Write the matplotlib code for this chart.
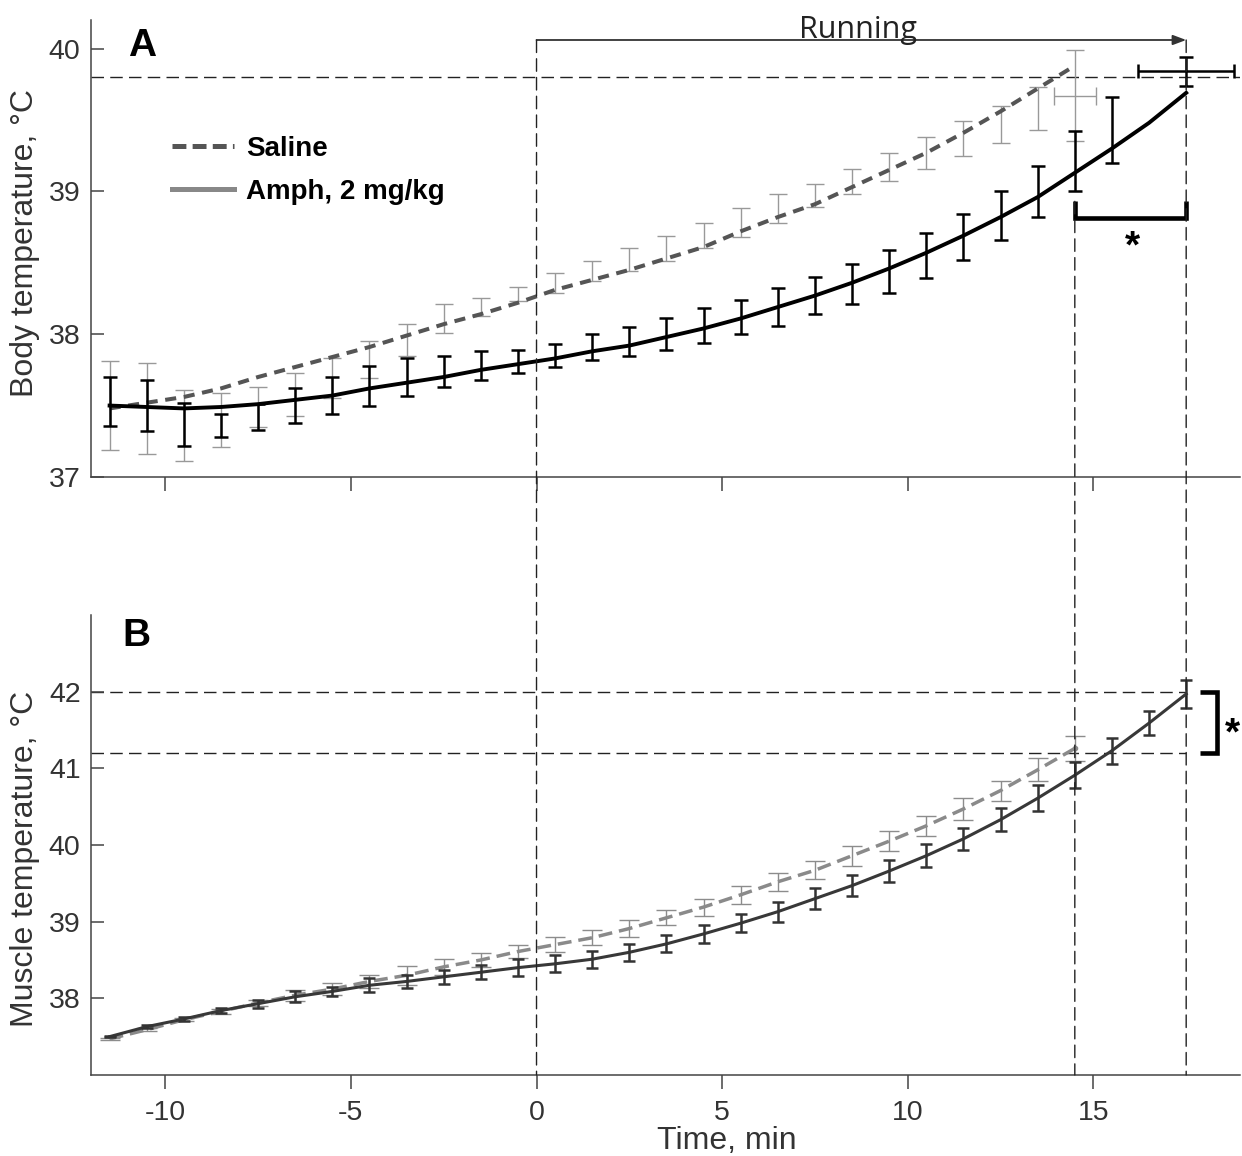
import matplotlib.pyplot as plt
from matplotlib.lines import Line2D
from matplotlib.patches import ConnectionPatch

plt.rcParams['font.family'] = ['Liberation Sans', 'DejaVu Sans']
plt.rcParams['axes.unicode_minus'] = False
plt.rcParams['lines.scale_dashes'] = False

# time points, min (0 = start of running)
time_pts = [-11.5, -10.5, -9.5, -8.5, -7.5, -6.5, -5.5, -4.5, -3.5, -2.5,
            -1.5, -0.5, 0.5, 1.5, 2.5, 3.5, 4.5, 5.5, 6.5, 7.5,
            8.5, 9.5, 10.5, 11.5, 12.5, 13.5, 14.5, 15.5, 16.5, 17.5]

# A: body temperature
body_amph_fit = [37.50, 37.49, 37.48, 37.49, 37.51, 37.54, 37.57, 37.62, 37.66, 37.70,
                 37.75, 37.79, 37.83, 37.88, 37.92, 37.98, 38.04, 38.11, 38.19, 38.27,
                 38.36, 38.46, 38.57, 38.69, 38.82, 38.96, 39.13, 39.30, 39.48, 39.69]
body_amph_mean = [37.53, 37.50, 37.37, 37.36, 37.42, 37.50, 37.57, 37.64, 37.70, 37.74,
                  37.78, 37.81, 37.85, 37.91, 37.95, 38.00, 38.06, 38.12, 38.19, 38.27,
                  38.35, 38.44, 38.55, 38.68, 38.83, 39.00, 39.21, 39.43]
body_amph_sem = [0.17, 0.18, 0.15, 0.08, 0.09, 0.12, 0.13, 0.14, 0.13, 0.11,
                 0.10, 0.08, 0.08, 0.09, 0.10, 0.11, 0.12, 0.12, 0.13, 0.13,
                 0.14, 0.15, 0.16, 0.16, 0.17, 0.18, 0.21, 0.23]
body_sal_fit = [37.48, 37.52, 37.56, 37.62, 37.70, 37.77, 37.84, 37.91, 37.99, 38.07,
                38.14, 38.22, 38.31, 38.38, 38.45, 38.53, 38.61, 38.72, 38.82, 38.91,
                39.03, 39.15, 39.27, 39.41, 39.56, 39.72, 39.88]
body_sal_mean = [37.50, 37.48, 37.36, 37.40, 37.49, 37.58, 37.69, 37.82, 37.96, 38.11,
                 38.19, 38.28, 38.36, 38.44, 38.52, 38.60, 38.69, 38.78, 38.88, 38.97,
                 39.07, 39.17, 39.27, 39.37, 39.47, 39.58]
body_sal_sem = [0.31, 0.32, 0.25, 0.19, 0.14, 0.15, 0.14, 0.13, 0.11, 0.10,
                0.06, 0.05, 0.07, 0.07, 0.08, 0.09, 0.09, 0.10, 0.10, 0.08,
                0.09, 0.10, 0.11, 0.12, 0.13, 0.15]
# exhaustion points: time, time err, temperature, temperature err
amph_end = [17.5, 1.3, 39.84, 0.10]
sal_end = [14.5, 0.56, 39.67, 0.32]

# B: muscle temperature
musc_amph = [37.50, 37.63, 37.73, 37.84, 37.93, 38.02, 38.09, 38.17, 38.22, 38.28,
             38.34, 38.40, 38.45, 38.51, 38.60, 38.71, 38.84, 38.98, 39.13, 39.30,
             39.47, 39.66, 39.86, 40.08, 40.33, 40.61, 40.91, 41.23, 41.59, 41.97]
musc_amph_sem = [0.01, 0.02, 0.02, 0.03, 0.05, 0.07, 0.06, 0.09, 0.08, 0.09,
                 0.09, 0.11, 0.11, 0.11, 0.11, 0.11, 0.12, 0.12, 0.13, 0.14,
                 0.14, 0.14, 0.15, 0.14, 0.15, 0.17, 0.17, 0.17, 0.16, 0.18]
musc_sal = [37.47, 37.59, 37.72, 37.83, 37.94, 38.04, 38.12, 38.22, 38.30, 38.41,
            38.50, 38.61, 38.70, 38.79, 38.91, 39.05, 39.19, 39.35, 39.52, 39.67,
            39.86, 40.05, 40.25, 40.47, 40.71, 40.98, 41.26]
musc_sal_sem = [0.01, 0.02, 0.02, 0.03, 0.04, 0.07, 0.08, 0.09, 0.12, 0.10,
                0.09, 0.09, 0.10, 0.10, 0.11, 0.10, 0.11, 0.12, 0.12, 0.12,
                0.13, 0.13, 0.13, 0.14, 0.13, 0.15, 0.16]

body_ref = 39.8
musc_refs = [42.0, 41.2]
run_start, sal_stop, amph_stop = 0.0, 14.5, 17.5

REF_DASH = (0, (9, 4.5))
REF_KW = dict(color='#222222', lw=1.0, ls=REF_DASH)

fig = plt.figure(figsize=(12.42, 11.56), dpi=100)
ax1 = fig.add_axes([0.0733, 0.5874, 0.9251, 0.3953])
ax2 = fig.add_axes([0.0733, 0.0701, 0.9251, 0.3979])

for ax in (ax1, ax2):
    ax.spines['top'].set_visible(False)
    ax.spines['right'].set_visible(False)
    for s in ('left', 'bottom'):
        ax.spines[s].set_color('#444444')
        ax.spines[s].set_linewidth(1.1)
    ax.set_xlim(-12, 18.95)
    ax.set_xticks([-10, -5, 0, 5, 10, 15])
    ax.tick_params(axis='y', direction='in', length=9, width=1.1, pad=7.5,
                   labelsize=20.5, color='#444444', labelcolor='#333333')
    ax.tick_params(axis='x', direction='out', length=10, width=1.1, pad=8,
                   labelsize=20.5, color='#444444', labelcolor='#333333')

# ---- A: body temperature ----
ax1.set_ylim(37, 40.2)
ax1.set_yticks([37, 38, 39, 40])
ax1.tick_params(labelbottom=False)
ax1.axhline(body_ref, zorder=1, **REF_KW)

n_sal = len(body_sal_fit)
n_am = len(body_amph_mean)
ax1.errorbar(time_pts[:len(body_sal_mean)], body_sal_mean, yerr=body_sal_sem, fmt='none',
             ecolor='#999999', elinewidth=1.0, capsize=6.8, capthick=1.0, zorder=2)
ax1.errorbar(sal_end[0], sal_end[2], xerr=sal_end[1], yerr=sal_end[3], fmt='none',
             ecolor='#999999', elinewidth=1.0, capsize=6.8, capthick=1.0, zorder=2)
ax1.plot(time_pts[:n_sal], body_sal_fit, color='#555555', lw=2.9,
         ls=(0, (8, 5.5)), zorder=3)
ax1.plot(time_pts, body_amph_fit, color='black', lw=2.8, zorder=4)
ax1.errorbar(time_pts[:n_am], body_amph_mean, yerr=body_amph_sem, fmt='none',
             ecolor='black', elinewidth=1.8, capsize=4.7, capthick=1.8, zorder=5)
ax1.errorbar(amph_end[0], amph_end[2], xerr=amph_end[1], yerr=amph_end[3], fmt='none',
             ecolor='black', elinewidth=1.8, capsize=4.7, capthick=1.8, zorder=5)

# running period arrow
ax1.annotate('', xy=(amph_stop, 40.06), xytext=(run_start, 40.06),
             arrowprops=dict(arrowstyle='-|>,head_length=0.8,head_width=0.3',
                             color='#333333', lw=1.3, shrinkA=0, shrinkB=0),
             annotation_clip=False)
ax1.text(8.67, 40.075, 'Running', ha='center', va='baseline', fontsize=22,
         family=['Open Sans', 'DejaVu Sans'], color='#222222')

# significance bracket on run time
ax1.plot([sal_stop, sal_stop, amph_stop, amph_stop], [38.93, 38.81, 38.81, 38.93],
         color='black', lw=3.3, solid_joinstyle='miter', solid_capstyle='butt', zorder=5)
ax1.text(16.05, 38.54, '*', ha='center', va='baseline', fontsize=28, fontweight='bold')

ax1.text(-11.0, 39.95, 'A', ha='left', va='baseline', fontsize=28, fontweight='bold')
ax1.set_ylabel('Body temperature, °C', fontsize=23, color='#333333')
ax1.yaxis.set_label_coords(-0.044, 0.512)

handles = [Line2D([], [], color='#555555', lw=3.6, ls=(0, (10, 4.5))),
           Line2D([], [], color='#888888', lw=3.6)]
ax1.legend(handles, ['Saline', 'Amph, 2 mg/kg'], loc='upper left',
           bbox_to_anchor=(0.061, 0.770), borderaxespad=0, frameon=False,
           prop={'weight': 'bold', 'size': 20}, handlelength=2.23,
           handletextpad=0.43, labelspacing=0.6)

# ---- B: muscle temperature ----
ax2.set_ylim(37, 43)
ax2.set_yticks([38, 39, 40, 41, 42])
ax2.hlines(musc_refs, -12, amph_stop, zorder=1, **REF_KW)

n_ms = len(musc_sal)
ax2.errorbar(time_pts[:n_ms], musc_sal, yerr=musc_sal_sem, fmt='none',
             ecolor='#8c8c8c', elinewidth=1.0, capsize=7.0, capthick=1.0, zorder=2)
ax2.plot(time_pts[:n_ms], musc_sal, color='#8a8a8a', lw=2.5,
         ls=(0, (10, 5)), zorder=3)
ax2.plot(time_pts[n_ms - 1], musc_sal[-1], 'o', color='#8a8a8a', ms=3, zorder=3)
ax2.plot(time_pts, musc_amph, color='#383838', lw=2.2, zorder=4)
ax2.errorbar(time_pts, musc_amph, yerr=musc_amph_sem, fmt='none',
             ecolor='#333333', elinewidth=1.8, capsize=4.4, capthick=1.8, zorder=5)

# significance bracket on final temperature
ax2.plot([17.86, 18.34, 18.34, 17.86], [musc_refs[0], musc_refs[0], musc_refs[1], musc_refs[1]],
         color='black', lw=3.3, solid_joinstyle='miter', solid_capstyle='butt', clip_on=False)
ax2.text(18.55, 41.31, '*', ha='left', va='baseline', fontsize=28, fontweight='bold')

ax2.text(-11.15, 42.6, 'B', ha='left', va='baseline', fontsize=28, fontweight='bold')
ax2.set_ylabel('Muscle temperature, °C', fontsize=23, color='#333333')
ax2.yaxis.set_label_coords(-0.044, 0.4696)
ax2.set_xlabel('Time, min', fontsize=23, color='#333333')
ax2.xaxis.set_label_coords(0.5535, -0.112)

# vertical markers running through both panels
for x, ytop in [(run_start, 40.06), (sal_stop, 38.93), (amph_stop, 40.06)]:
    con = ConnectionPatch(xyA=(x, ytop), coordsA='data', axesA=ax1,
                          xyB=(x, 37.0), coordsB='data', axesB=ax2, **REF_KW)
    fig.add_artist(con)

fig.savefig('out.png', dpi=100)
